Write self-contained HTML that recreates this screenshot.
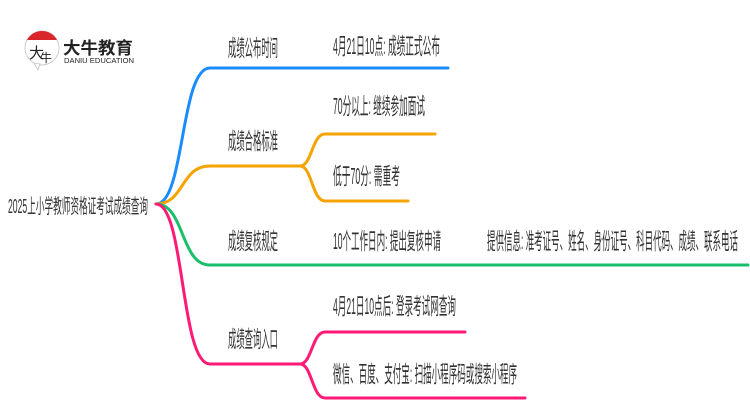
<!DOCTYPE html>
<html><head><meta charset="utf-8"><style>
html,body{margin:0;padding:0;background:#fff;width:750px;height:410px;overflow:hidden}
svg{display:block}
text{font-family:"Liberation Sans","Noto Sans CJK SC",sans-serif;fill:#333}
</style></head><body>
<svg width="750" height="410" viewBox="0 0 750 410" xmlns="http://www.w3.org/2000/svg">
<circle cx="42" cy="48" r="17" fill="#fff" stroke="#ccc" stroke-width="1"/>
<path d="M27 40 A17 17 0 0 1 57 40 Z" fill="#d8262b"/>
<path d="M34 63 L38 70 L40 64 Z" fill="#fff" stroke="#ccc" stroke-width="1"/>
<text x="29" y="58" font-size="15" style="fill:#222">大</text>
<text x="40" y="62" font-size="12" style="fill:#222">牛</text>
<text x="63" y="54" font-size="17" font-weight="bold" textLength="70" lengthAdjust="spacingAndGlyphs" style="fill:#222">大牛教育</text>
<text x="64" y="63" font-size="7" textLength="70" lengthAdjust="spacingAndGlyphs" style="fill:#222">DANIU EDUCATION</text>

<g fill="none" stroke-width="3" stroke-linecap="round">
<path d="M156 204 C185 204,180 68,210 68 L448 68" stroke="#1a8cff"/>
<path d="M156 204 C185 204,180 166,210 166 L300 166" stroke="#f5a300"/>
<path d="M300 166 C312 166,312 134,325 134 L435 134" stroke="#f5a300"/>
<path d="M300 166 C312 166,312 201,325 201 L408 201" stroke="#f5a300"/>
<path d="M156 204 C185 204,180 265,210 265 L748 265" stroke="#1abf6a"/>
<path d="M156 204 C185 204,180 364,210 364 L300 364" stroke="#ff1a75"/>
<path d="M300 364 C312 364,312 332,325 332 L465 332" stroke="#ff1a75"/>
<path d="M300 364 C312 364,312 398,325 398 L525 398" stroke="#ff1a75"/>
</g>

<g font-size="23">
<text x="8" y="213" font-size="20" textLength="140" lengthAdjust="spacingAndGlyphs">2025上小学教师资格证考试成绩查询</text>
<text x="228" y="56" textLength="50" lengthAdjust="spacingAndGlyphs">成绩公布时间</text>
<text x="333" y="54" textLength="107" lengthAdjust="spacingAndGlyphs">4月21日10点: 成绩正式公布</text>
<text x="228" y="149" textLength="50" lengthAdjust="spacingAndGlyphs">成绩合格标准</text>
<text x="333" y="114" textLength="92" lengthAdjust="spacingAndGlyphs">70分以上: 继续参加面试</text>
<text x="333" y="184" textLength="67" lengthAdjust="spacingAndGlyphs">低于70分: 需重考</text>
<text x="228" y="249" textLength="50" lengthAdjust="spacingAndGlyphs">成绩复核规定</text>
<text x="333" y="249" textLength="108" lengthAdjust="spacingAndGlyphs">10个工作日内: 提出复核申请</text>
<text x="487" y="249" textLength="251" lengthAdjust="spacingAndGlyphs">提供信息: 准考证号、姓名、身份证号、科目代码、成绩、联系电话</text>
<text x="228" y="347" textLength="50" lengthAdjust="spacingAndGlyphs">成绩查询入口</text>
<text x="333" y="314" textLength="123" lengthAdjust="spacingAndGlyphs">4月21日10点后: 登录考试网查询</text>
<text x="333" y="382" textLength="184" lengthAdjust="spacingAndGlyphs">微信、百度、支付宝: 扫描小程序码或搜索小程序</text>
</g>
</svg>
</body></html>
